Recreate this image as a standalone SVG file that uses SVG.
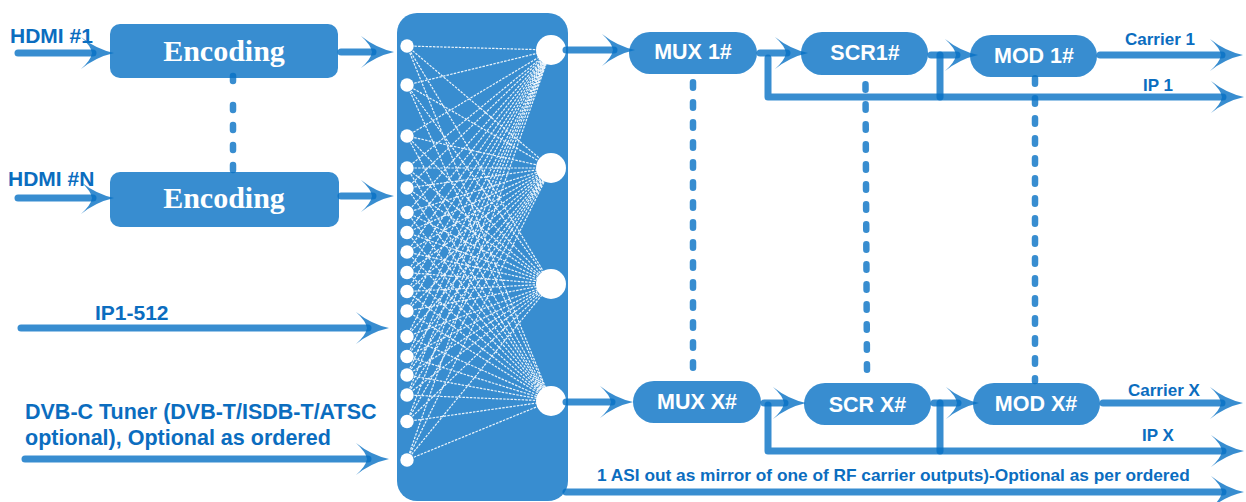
<svg xmlns="http://www.w3.org/2000/svg" width="1246" height="502" viewBox="0 0 1246 502">
<style>
.lbl{font-family:"Liberation Sans",Arial,sans-serif;font-weight:bold;fill:#0b6dbf}
.bx{fill:#388dd0}
.bt{font-family:"Liberation Sans",Arial,sans-serif;font-weight:bold;font-size:21.5px;fill:#fff;text-anchor:middle}
.enc{font-family:"Liberation Serif","Times New Roman",serif;font-weight:bold;font-size:30px;fill:#fff;text-anchor:middle}
.cn{fill:none;stroke:#0670c4;stroke-opacity:0.8;stroke-width:7;stroke-linecap:round;stroke-linejoin:round}
.cna{marker-end:url(#ah)}
.dot{fill:none;stroke:#0670c4;stroke-opacity:0.8;stroke-width:6.5;stroke-linecap:round;stroke-dasharray:5.5 14.5}
.mx{fill:none;stroke:#fff;stroke-width:1.2;stroke-dasharray:2.5 1.2;stroke-opacity:0.9}
.sc{fill:#fff}
</style>
<defs>
<marker id="ah" markerUnits="userSpaceOnUse" viewBox="-15 -18 40 36" markerWidth="40" markerHeight="36" refX="0" refY="0" orient="auto" overflow="visible">
<path d="M21,0 Q3,-4 -12,-16 Q-2,-7 -1,0 Q-2,7 -12,16 Q3,4 21,0Z" fill="#0670c4" fill-opacity="0.8"/>
</marker>
</defs>

<g id="enc1"><rect class="bx" x="110" y="24" width="228" height="54" rx="10"/><text class="enc" x="224" y="61">Encoding</text></g>
<g id="encN"><rect class="bx" x="110" y="172" width="229" height="55" rx="10"/><text class="enc" x="224" y="208">Encoding</text></g>

<g id="matrix">
<rect class="bx" x="397" y="13" width="171" height="488" rx="20"/>
<path class="mx" d="M407 46L551 50M407 46L551 168M407 46L551 284M407 46L551 401M407 85L551 50M407 85L551 168M407 85L551 284M407 85L551 401M407 136L551 50M407 136L551 168M407 136L551 284M407 136L551 401M407 168L551 50M407 168L551 168M407 168L551 284M407 168L551 401M407 188L551 50M407 188L551 168M407 188L551 284M407 188L551 401M407 212.5L551 50M407 212.5L551 168M407 212.5L551 284M407 212.5L551 401M407 232.5L551 50M407 232.5L551 168M407 232.5L551 284M407 232.5L551 401M407 252L551 50M407 252L551 168M407 252L551 284M407 252L551 401M407 272.5L551 50M407 272.5L551 168M407 272.5L551 284M407 272.5L551 401M407 291.5L551 50M407 291.5L551 168M407 291.5L551 284M407 291.5L551 401M407 311L551 50M407 311L551 168M407 311L551 284M407 311L551 401M407 336.5L551 50M407 336.5L551 168M407 336.5L551 284M407 336.5L551 401M407 356.5L551 50M407 356.5L551 168M407 356.5L551 284M407 356.5L551 401M407 375L551 50M407 375L551 168M407 375L551 284M407 375L551 401M407 395L551 50M407 395L551 168M407 395L551 284M407 395L551 401M407 421.5L551 50M407 421.5L551 168M407 421.5L551 284M407 421.5L551 401M407 460L551 50M407 460L551 168M407 460L551 284M407 460L551 401"/>
<g class="sc">
<circle cx="407" cy="46" r="6.7"/><circle cx="407" cy="85" r="6.7"/><circle cx="407" cy="136" r="6.7"/><circle cx="407" cy="168" r="6.7"/><circle cx="407" cy="188" r="6.7"/><circle cx="407" cy="212.5" r="6.7"/><circle cx="407" cy="232.5" r="6.7"/><circle cx="407" cy="252" r="6.7"/><circle cx="407" cy="272.5" r="6.7"/><circle cx="407" cy="291.5" r="6.7"/><circle cx="407" cy="311" r="6.7"/><circle cx="407" cy="336.5" r="6.7"/><circle cx="407" cy="356.5" r="6.7"/><circle cx="407" cy="375" r="6.7"/><circle cx="407" cy="395" r="6.7"/><circle cx="407" cy="421.5" r="6.7"/><circle cx="407" cy="460" r="6.7"/>
<circle cx="551" cy="50" r="15"/><circle cx="551" cy="168" r="15"/><circle cx="551" cy="284" r="15"/><circle cx="551" cy="401" r="15"/>
</g>
</g>

<g id="mux1"><rect class="bx" x="629" y="32" width="128" height="42" rx="21"/><text class="bt" x="693" y="59">MUX 1#</text></g>
<g id="scr1"><rect class="bx" x="801" y="32" width="127" height="43" rx="21"/><text class="bt" x="865" y="60">SCR1#</text></g>
<g id="mod1"><rect class="bx" x="970" y="35" width="127" height="42" rx="21"/><text class="bt" x="1034" y="63">MOD 1#</text></g>
<g id="muxX"><rect class="bx" x="633" y="381" width="128" height="42" rx="21"/><text class="bt" x="697" y="409">MUX X#</text></g>
<g id="scrX"><rect class="bx" x="804" y="383" width="127" height="42" rx="21"/><text class="bt" x="867.5" y="412">SCR X#</text></g>
<g id="modX"><rect class="bx" x="973" y="383" width="127" height="42" rx="21"/><text class="bt" x="1036" y="411">MOD X#</text></g>

<g id="labels">
<text class="lbl" x="10" y="43" font-size="21">HDMI #1</text>
<text class="lbl" x="8" y="186" font-size="21">HDMI #N</text>
<text class="lbl" x="95" y="320" font-size="21">IP1-512</text>
<text class="lbl" x="25" y="419" font-size="21.5">DVB-C Tuner (DVB-T/ISDB-T/ATSC</text>
<text class="lbl" x="25" y="445" font-size="21.5">optional), Optional as ordered</text>
<text class="lbl" x="1125" y="45" font-size="17">Carrier 1</text>
<text class="lbl" x="1143" y="91" font-size="17">IP 1</text>
<text class="lbl" x="1128" y="396" font-size="17">Carrier X</text>
<text class="lbl" x="1142" y="441" font-size="17">IP X</text>
<text class="lbl" x="597" y="481" font-size="17.3">1 ASI out as mirror of one of RF carrier outputs)-Optional as per ordered</text>
</g>

<g id="connectors">
<path class="cn cna" d="M18 53L93 53"/>
<path class="cn cna" d="M18 198L93 198"/>
<path class="cn cna" d="M341 52L373 52"/>
<path class="cn cna" d="M341 196L373 196"/>
<path class="cn cna" d="M21 328L368 328"/>
<path class="cn cna" d="M25 459L368 459"/>
<path class="cn cna" d="M566 50L614 50"/>
<path class="cn cna" d="M760 53L787 53"/>
<path class="cn cna" d="M768 58L768 97L1223 97"/>
<path class="cn cna" d="M931 55L957 55"/>
<path class="cn" d="M940 55L940 97"/>
<path class="cn cna" d="M1100 55L1222 55"/>
<path class="cn cna" d="M566 402L612 402"/>
<path class="cn cna" d="M764 403L785 403"/>
<path class="cn cna" d="M768 405L768 451L1223 451"/>
<path class="cn cna" d="M934 403L958 403"/>
<path class="cn" d="M940 403L940 451"/>
<path class="cn cna" d="M1103 403L1222 403"/>
<path class="cn cna" d="M566 492L1223 492"/>
<path class="dot" d="M233 76L233 172" style="stroke-dasharray:5 24 5 15 5 15 5 15 5 15"/>
<path class="dot" d="M693 82.25L693 372"/>
<path class="dot" d="M865.5 84.25L867 375"/>
<path class="dot" d="M1035 78.25L1035 381"/>
</g>
</svg>
